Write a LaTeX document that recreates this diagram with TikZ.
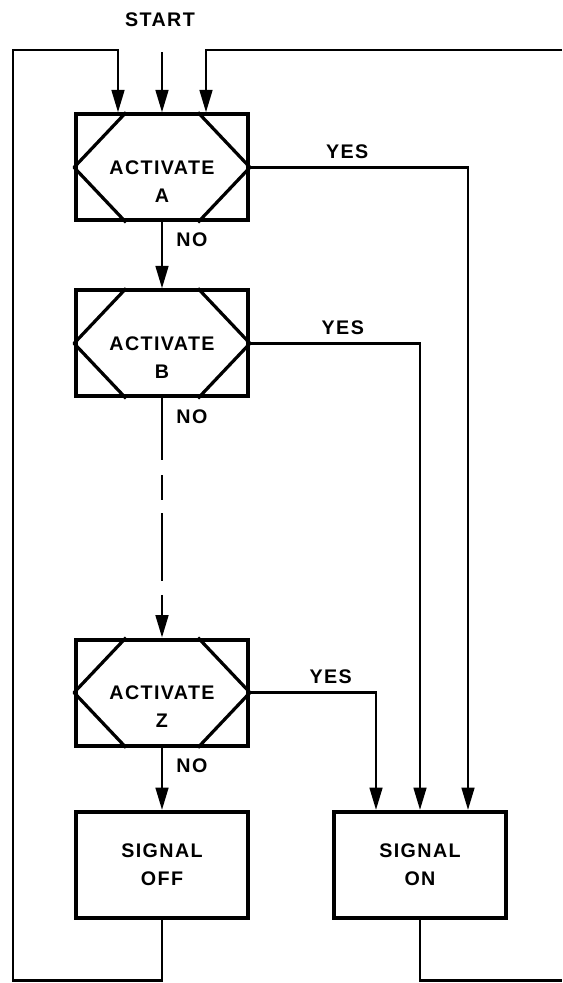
\documentclass[tikz,border=0pt]{standalone}
\usepackage{fontspec}
\usepackage{tikz}
\usetikzlibrary{arrows.meta}
\newfontfamily\etich{Liberation Sans}[LetterSpace=7]
\newcommand{\scritta}{\etich\bfseries\fontsize{14}{19.9}\selectfont}

\begin{document}
\begin{tikzpicture}[>={Triangle[length=16pt,width=9pt]}, font=\scritta,
  blocco/.style={draw, line width=2.8pt, minimum width=4.3cm, minimum height=2.65cm, align=center},
  linea/.style={line width=1.9pt},
  esagono/.style={line width=2.3pt, line join=round}]
  \useasboundingbox (0,0) rectangle (14.05,24.575);
  \node[blocco] (A) at (4.05,20.39) {};
  \node[blocco] (B) at (4.05,15.99) {};
  \node[blocco] (Z) at (4.05,7.26) {};
  \node[blocco] (off) at (4.05,2.95) {SIGNAL\\OFF};
  \node[blocco] (on) at (10.5,2.95) {SIGNAL\\ON};
  \foreach \n in {A,B,Z} {
    \draw[esagono] ([xshift=1.3cm]\n.north west) -- (\n.west) -- ([xshift=1.3cm]\n.south west);
    \draw[esagono] ([xshift=-1.3cm]\n.north east) -- (\n.east) -- ([xshift=-1.3cm]\n.south east);
    \node[align=center] (\n t) at ([yshift=-0.35cm]\n.center) {ACTIVATE\\\n};
  }
  % ingresso e ritorni
  \node (start) at (4.0,24.075) {START};
  \coordinate (inizio) at (0,23.27);
  \coordinate (so) at (0.325,0.07);
  \coordinate (nw) at (0.325,23.325);
  \coordinate (ne) at (14.05,23.325);
  \coordinate (se) at (14.05,0.07);
  \draw[linea,->] (A.north |- inizio) -- (A.north);
  \draw[linea,->] (off.south) |- (so) -- (nw) -| ([xshift=-1.1cm]A.north);
  \draw[linea,->] (ne) -| ([xshift=1.1cm]A.north);
  \draw[linea] (on.south) |- (se);
  % rami NO
  \draw[linea,->] (A) -- node[right=6pt,pos=0.27] (noA) {NO} (B);
  \draw[linea,->,dash pattern=on 44pt off 10.7pt on 17.8pt off 9.2pt on 48pt off 10pt on 100pt]
    (B) -- node[right=6pt,pos=0.075] (noB) {NO} (Z);
  \draw[linea,->] (Z) -- node[right=6pt,pos=0.29] (noZ) {NO} (off);
  % rami YES
  \draw[linea,->] (A.east) -| node[above=2pt,pos=0.223] (siA) {YES} ([xshift=1.2cm]on.north);
  \draw[linea,->] (B.east) -| node[above=2pt,pos=0.273] (siB) {YES} (on.north);
  \draw[linea,->] (Z.east) -| node[above=2pt,pos=0.32] (siZ) {YES} ([xshift=-1.1cm]on.north);
\end{tikzpicture}
\end{document}
